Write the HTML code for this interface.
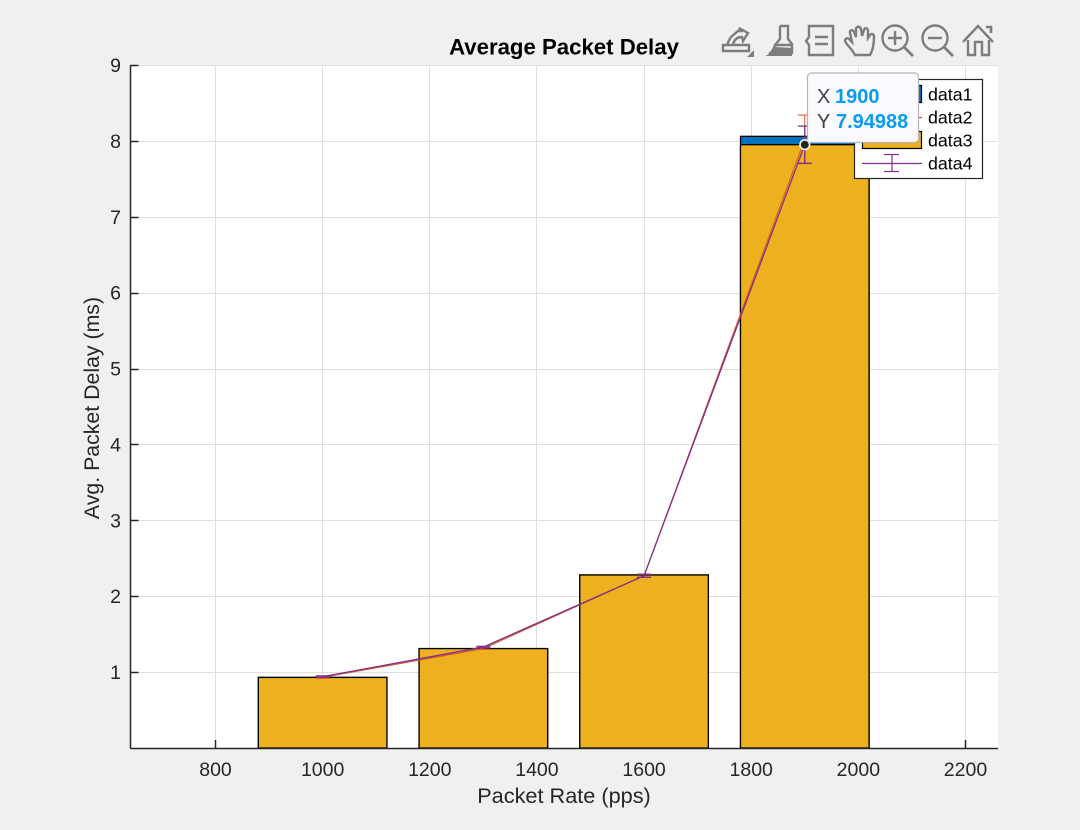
<!DOCTYPE html>
<html>
<head>
<meta charset="utf-8">
<title>Average Packet Delay</title>
<style>
html,body{margin:0;padding:0;background:#f0f0f0;}
#wrap{position:relative;width:1080px;height:830px;overflow:hidden;background:#f0f0f0;}
svg{position:absolute;left:0;top:0;}
text{font-family:"Liberation Sans",Arial,sans-serif;}
</style>
</head>
<body>
<div id="wrap">
<svg id="chart" width="1080" height="830" viewBox="0 0 1080 830"></svg>
<svg width="1080" height="70" viewBox="0 0 1080 70">
  <g fill="none" stroke="#7d7d7d" stroke-width="2.4">
    <g>
      <path d="M723 45h26v6h-26z"/>
      <path d="M727 45c1-3 2-5 4-8l7-6h3l-2-3 9 5-5 8-1-4c-5 0-8 3-9 8"/>
      <path d="M747 57l7-7v7z" fill="#7d7d7d" stroke="none"/>
    </g>
    <g>
      <path d="M780 26h8v13l4 5v10"/>
      <path d="M780 26v13l-5 6c-1 4-3 7-6 9"/>
      <path d="M775 45h17"/>
      <path d="M765 56c5-2 8-5 10-9l17 1v8z" fill="#7d7d7d" stroke="none"/>
    </g>
    <g>
      <path d="M809 26h24v29h-24v-10l-3-4 3-4z"/>
      <path d="M815 37h13M815 44h13" stroke-width="2.6"/>
    </g>
    <g>
      <path d="M855 55c-2-4-5-7-9-12-2-3 0-6 3-4l3 3-2-9c-1-3 3-4 4-1l2 5 0-8c0-3 4-3 5 0l1 7 2-6c1-3 4-2 4 1l0 7 2-3c2-2 4-1 4 2 0 7-1 13-4 18z"/>
    </g>
    <g>
      <circle cx="895" cy="38" r="12.5"/>
      <path d="M904 47l9 9" stroke-width="2.8"/>
      <path d="M888 38h14M895 31v14"/>
    </g>
    <g>
      <circle cx="935" cy="38" r="12.5"/>
      <path d="M944 47l9 9" stroke-width="2.8"/>
      <path d="M928 38h14"/>
    </g>
    <g>
      <path d="M963 42l15-16 15 16"/>
      <path d="M968 40v15h7v-13h7v13h7v-15"/>
      <path d="M986 27h5v6" stroke-width="2.6"/>
    </g>
  </g>
</svg>
</div>
<script>
const categories = [1000, 1300, 1600, 1900];
const data1Values = [0.93, 1.31, 2.28, 8.06];
const data2Values = [0.93, 1.31, 2.27, 8.02];
const data2Errors = [0.01, 0.01, 0.02, 0.32];
const data3Values = [0.93, 1.31, 2.28, 7.95];
const data4Values = [0.94, 1.33, 2.27, 7.94988];
const data4Errors = [0.01, 0.01, 0.02, 0.245];
const xTicks = [800, 1000, 1200, 1400, 1600, 1800, 2000, 2200];
const yTicks = [1, 2, 3, 4, 5, 6, 7, 8, 9];
const barWidthUnits = 240;
const tipX = "1900";
const tipY = "7.94988";

const NS = 'http://www.w3.org/2000/svg';
const svg = document.getElementById('chart');
const L = 130.5, R = 998, T = 65, B = 748;
function xScale(v){ return 215.5 + (v - 800) * (965.5 - 215.5) / 1400; }
function yScale(v){ return B - v * (B - T) / 9; }
function mk(tag, attrs, parent){
  const el = document.createElementNS(NS, tag);
  for (const k in attrs) el.setAttribute(k, attrs[k]);
  (parent || svg).appendChild(el);
  return el;
}

// plot background
const plotBg = mk('rect', {x:L, y:T, width:R-L, height:B-T, fill:'#ffffff'});



// grid
const gridGroup = mk('g', {stroke:'#dfdfdf', 'stroke-width':1, 'shape-rendering':'crispEdges'});


xTicks.forEach(function(t){
  const x = Math.floor(xScale(t)) + 0.5;
  mk('line', {x1:x, x2:x, y1:T, y2:B}, gridGroup);
});
yTicks.forEach(function(t){
  const y = Math.round(yScale(t)) + 0.5;
  mk('line', {x1:L, x2:R, y1:y, y2:y}, gridGroup);
});

// x ticks sit beneath the bars
const xTickGroup = mk('g', {stroke:'#262626', 'stroke-width':1.5});


xTicks.forEach(function(t){
  const x = Math.floor(xScale(t)) + 0.5;
  mk('line', {x1:x, x2:x, y1:B, y2:B-8}, xTickGroup);
});

// bars
function drawBars(values, color, name){
  const g = mk('g', {});
  
  
  values.forEach(function(v, i){
    const x0 = xScale(categories[i] - barWidthUnits / 2);
    const x1 = xScale(categories[i] + barWidthUnits / 2);
    const y = yScale(v);
    const r = mk('rect', {x:x0, y:y, width:x1-x0, height:B-y, fill:color, stroke:'#000000', 'stroke-width':1.3}, g);
    
    
  });
}
drawBars(data1Values, '#0072bd', 'data1-bars');
drawBars(data3Values, '#edb120', 'data3-bars');

// error-bar lines
function drawErr(values, errs, color, name, width){
  const g = mk('g', {stroke:color, fill:'none', 'stroke-width':width});
  
  
  const pts = values.map(function(v, i){ return xScale(categories[i]) + ',' + yScale(v); }).join(' ');
  const pl = mk('polyline', {points:pts}, g);
  
  
  values.forEach(function(v, i){
    const x = xScale(categories[i]);
    const hi = yScale(v + errs[i]);
    const lo = yScale(v - errs[i]);
    mk('line', {x1:x, x2:x, y1:hi, y2:lo}, g);
    mk('line', {x1:x-7, x2:x+7, y1:hi, y2:hi}, g);
    mk('line', {x1:x-7, x2:x+7, y1:lo, y2:lo}, g);
  });
}
drawErr(data2Values, data2Errors, '#d95319', 'data2-errorbar', 1);
drawErr(data4Values, data4Errors, '#7e2f8e', 'data4-errorbar', 1.3);

// axes
const axisGroup = mk('g', {stroke:'#262626', 'stroke-width':1.5});


mk('line', {x1:L, x2:L, y1:T, y2:B+0.5}, axisGroup);
mk('line', {x1:L, x2:R, y1:B+0.5, y2:B+0.5}, axisGroup);
yTicks.forEach(function(t){
  const y = Math.round(yScale(t)) + 0.5;
  mk('line', {x1:L, x2:L+8, y1:y, y2:y}, axisGroup);
});

// tick labels
xTicks.forEach(function(t){
  const lb = mk('text', {x:xScale(t), y:776, 'text-anchor':'middle', 'font-size':19.5, fill:'#262626'});
  lb.textContent = t;
  
  
});
yTicks.forEach(function(t){
  const lb = mk('text', {x:121, y:yScale(t)+7, 'text-anchor':'end', 'font-size':19.5, fill:'#262626'});
  lb.textContent = t;
  
  
});

// titles
const title = mk('text', {x:564, y:54.5, 'text-anchor':'middle', 'font-size':22.2, 'font-weight':'bold', fill:'#000000'});
title.textContent = 'Average Packet Delay';


const xTitle = mk('text', {x:564, y:803, 'text-anchor':'middle', 'font-size':21.7, fill:'#262626'});
xTitle.textContent = 'Packet Rate (pps)';


const yTitle = mk('text', {x:0, y:0, transform:'translate(99,408) rotate(-90)', 'text-anchor':'middle', 'font-size':21.3, fill:'#262626'});
yTitle.textContent = 'Avg. Packet Delay (ms)';



// legend
const legend = mk('g', {});


mk('rect', {x:854.5, y:79.5, width:128, height:99, fill:'#ffffff', stroke:'#262626', 'stroke-width':1.2}, legend);
mk('rect', {x:862.5, y:85.5, width:59, height:17, fill:'#0072bd', stroke:'#000', 'stroke-width':1.2}, legend);
mk('line', {x1:862, x2:922, y1:117.5, y2:117.5, stroke:'#d95319', 'stroke-width':1.2}, legend);
mk('line', {x1:892, x2:892, y1:108, y2:127, stroke:'#d95319', 'stroke-width':1.2}, legend);
mk('line', {x1:884, x2:899, y1:108.5, y2:108.5, stroke:'#d95319', 'stroke-width':1.2}, legend);
mk('line', {x1:884, x2:899, y1:126.5, y2:126.5, stroke:'#d95319', 'stroke-width':1.2}, legend);
mk('rect', {x:862.5, y:131.5, width:59, height:17, fill:'#edb120', stroke:'#000', 'stroke-width':1.2}, legend);
mk('line', {x1:862, x2:922, y1:163.5, y2:163.5, stroke:'#7e2f8e', 'stroke-width':1.2}, legend);
mk('line', {x1:892, x2:892, y1:154, y2:172, stroke:'#7e2f8e', 'stroke-width':1.2}, legend);
mk('line', {x1:884, x2:899, y1:154.5, y2:154.5, stroke:'#7e2f8e', 'stroke-width':1.2}, legend);
mk('line', {x1:884, x2:899, y1:171.5, y2:171.5, stroke:'#7e2f8e', 'stroke-width':1.2}, legend);
['data1','data2','data3','data4'].forEach(function(s, i){
  const t = mk('text', {x:928, y:100.5 + i * 23, 'font-size':17.8, fill:'#000000'}, legend);
  t.textContent = s;
  
  
});

// data tip
const tip = mk('g', {});


mk('rect', {x:807.5, y:73, width:111, height:69.5, rx:4, fill:'#fafaff', stroke:'#b4b4b8', 'stroke-width':1.2}, tip);
const tx1 = mk('text', {x:817, y:103, 'font-size':20, fill:'#404040'}, tip);
tx1.textContent = 'X';
const tv1 = mk('text', {x:835, y:103, 'font-size':20, 'font-weight':'bold', fill:'#0a9bf5'}, tip);
tv1.textContent = tipX;
const tx2 = mk('text', {x:817, y:128, 'font-size':20, fill:'#404040'}, tip);
tx2.textContent = 'Y';
const tv2 = mk('text', {x:836, y:128, 'font-size':20, 'font-weight':'bold', fill:'#0a9bf5'}, tip);
tv2.textContent = tipY;
const marker = mk('circle', {cx:xScale(1900), cy:yScale(7.94988), r:4.8, fill:'#262626', stroke:'#fff8d8', 'stroke-width':1.6}, tip);


</script>
</body>
</html>
